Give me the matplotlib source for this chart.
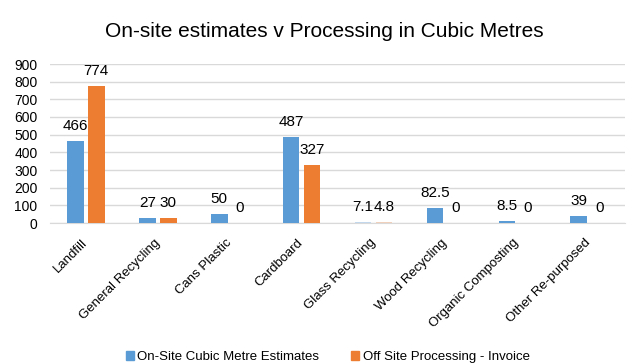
import matplotlib
matplotlib.use('Agg')
import matplotlib.pyplot as plt
import numpy as np

categories = ['Landfill', 'General Recycling', 'Cans Plastic', 'Cardboard',
              'Glass Recycling', 'Wood Recycling', 'Organic Composting',
              'Other Re-purposed']
onsite = [466, 27, 50, 487, 7.1, 82.5, 8.5, 39]
offsite = [774, 30, 0, 327, 4.8, 0, 0, 0]
onsite_labels = ['466', '27', '50', '487', '7.1', '82.5', '8.5', '39']
offsite_labels = ['774', '30', '0', '327', '4.8', '0', '0', '0']
yticks = [0, 100, 200, 300, 400, 500, 600, 700, 800, 900]

plt.rcParams['font.family'] = ['Liberation Sans', 'DejaVu Sans']

BLUE = '#5B9BD5'
ORANGE = '#ED7D31'
# the glass pair is drawn faded in the original
faded = {'Glass Recycling': ('#C3D7EC', '#F0D0BA')}

fig = plt.figure(figsize=(6.28, 3.64), dpi=100)
ax = fig.add_axes([50/628, 1 - 223/364, 575/628, (223-64)/364])

x = np.arange(len(categories))
w = 0.23
off = 0.145
for i, c in enumerate(categories):
  cb, co = faded.get(c, (BLUE, ORANGE))
  ax.bar(x[i] - off, onsite[i], w, color=cb, zorder=3)
  ax.bar(x[i] + off, offsite[i], w, color=co, zorder=3)
  ax.annotate(onsite_labels[i], (x[i] - off, onsite[i]), xytext=(0, 8),
              textcoords='offset points', ha='center', va='baseline', fontsize=11)
  ax.annotate(offsite_labels[i], (x[i] + off, offsite[i]), xytext=(0, 8),
              textcoords='offset points', ha='center', va='baseline', fontsize=11)

ax.set_xlim(-0.5, len(categories) - 0.5)
ax.set_ylim(0, 900)
ax.set_yticks(yticks)
ax.tick_params(axis='y', length=0, labelsize=10, pad=9)
ax.tick_params(axis='x', length=0, labelsize=9.5, pad=13)
ax.set_xticks(x)
ax.set_xticklabels(categories, rotation=45, ha='right', va='center',
                   rotation_mode='anchor')
ax.grid(axis='y', color='#D9D9D9', linewidth=1, zorder=0)
for s in ['top', 'right', 'left']:
  ax.spines[s].set_visible(False)
ax.spines['bottom'].set_color('#D9D9D9')

fig.text(0.516, 1 - 37/364, 'On-site estimates v Processing in Cubic Metres',
         ha='center', va='baseline', fontsize=15)

h1 = plt.Rectangle((0, 0), 1, 1, color=BLUE)
h2 = plt.Rectangle((0, 0), 1, 1, color=ORANGE)
fig.legend([h1, h2], ['On-Site Cubic Metre Estimates', 'Off Site Processing - Invoice'],
           loc='center', bbox_to_anchor=(0.522, 1 - 357/364), ncol=2, frameon=False,
           fontsize=9.5, handlelength=0.6, handleheight=0.6, handletextpad=0.3,
           columnspacing=2.4, borderpad=0, borderaxespad=0)

fig.savefig('out.png', dpi=100)
